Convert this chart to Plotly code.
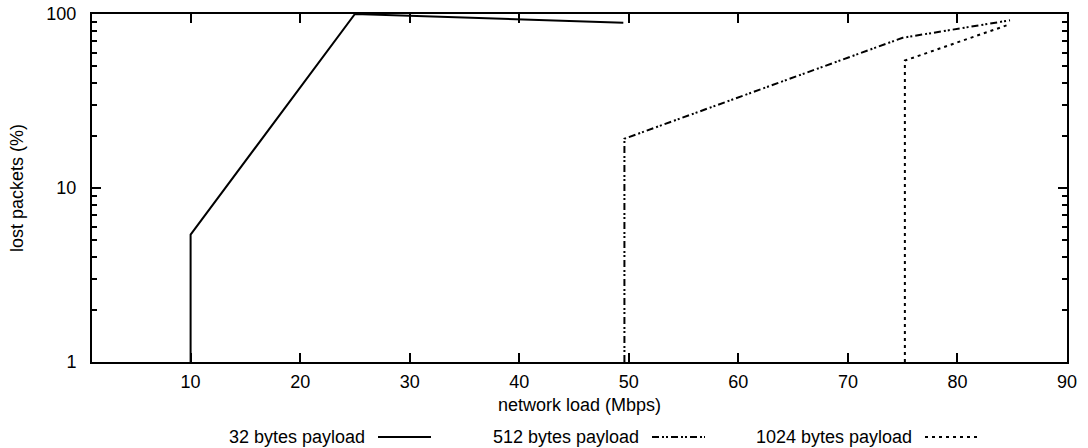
import plotly.graph_objects as go

# data
x32 = [10, 10, 25, 49.5]
y32 = [1, 5.4, 100, 89]
x512 = [49.6, 49.6, 75, 84.8]
y512 = [1, 19.2, 73, 92]
x1024 = [75.2, 75.2, 84.6]
y1024 = [1, 54, 86.5]
legend_names = ["32 bytes payload", "512 bytes payload", "1024 bytes payload"]
xticks = [10, 20, 30, 40, 50, 60, 70, 80, 90]
yticks = [1, 10, 100]
yminor = [2, 3, 4, 5, 6, 7, 8, 9, 20, 30, 40, 50, 60, 70, 80, 90]

FONT = "Liberation Sans, Arial, sans-serif"
FS = 18
W, H = 1088, 448
L, R, T, B = 92, 21, 14, 86
PW = W - L - R
PH = H - T - B

dashes = ["solid", "7px,3px,2px,2px,2px,3px", "3px,4px"]
series = [(x32, y32), (x512, y512), (x1024, y1024)]

fig = go.Figure()
for (xs, ys), d, n in zip(series, dashes, legend_names):
    fig.add_trace(go.Scatter(x=xs, y=ys, mode="lines", name=n, showlegend=False,
                             line=dict(color="black", width=2, dash=d)))

def px(xp):
    return (xp - L) / PW

def py(yp):
    return (H - B - yp) / PH

# manual gnuplot-style legend: text then sample
leg_text_right = [367, 641, 914]
leg_sample = [(378, 431), (652, 705), (925, 978)]
ly = 437
shapes = []
annotations = []
for name, tr, (s0, s1), d in zip(legend_names, leg_text_right, leg_sample, dashes):
    annotations.append(dict(x=px(tr), y=py(ly), xref="paper", yref="paper", text=name,
                            showarrow=False, xanchor="right", yanchor="middle",
                            font=dict(family=FONT, size=FS, color="black")))
    shapes.append(dict(type="line", xref="paper", yref="paper", x0=px(s0), x1=px(s1),
                       y0=py(ly), y1=py(ly), line=dict(color="black", width=2, dash=d)))

fig.update_layout(
    width=W, height=H,
    margin=dict(l=L, r=R, t=T, b=B, autoexpand=False),
    paper_bgcolor="white", plot_bgcolor="rgba(0,0,0,0)",
    font=dict(family=FONT, size=FS, color="black"),
    shapes=shapes, annotations=annotations,
    xaxis=dict(range=[1, 90], tickmode="array", tickvals=xticks,
               ticktext=[str(v) for v in xticks],
               ticks="inside", ticklen=9, tickwidth=1.5, tickcolor="#000000",
               showline=True, linecolor="black", linewidth=2, mirror="allticks",
               showgrid=False, zeroline=False, ticklabelstandoff=2,
               title=dict(text="network load (Mbps)", standoff=8,
                          font=dict(family=FONT, size=FS))),
    yaxis=dict(type="log", range=[0, 2], tickmode="array", tickvals=yticks,
               ticktext=[str(v) for v in yticks],
               ticks="inside", ticklen=9, tickwidth=1.5, tickcolor="#000000",
               showline=True, linecolor="black", linewidth=2, mirror="allticks",
               showgrid=False, zeroline=False, ticklabelstandoff=10,
               minor=dict(ticks="inside", ticklen=5, tickwidth=1.5, tickcolor="#000000",
                          tickmode="array", tickvals=yminor, showgrid=False),
               title=dict(text="lost packets (%)", standoff=18,
                          font=dict(family=FONT, size=FS))),
)

fig.write_html("out.html", config={"displayModeBar": False},
               post_script="document.body.style.margin='0';document.body.style.padding='0';")
